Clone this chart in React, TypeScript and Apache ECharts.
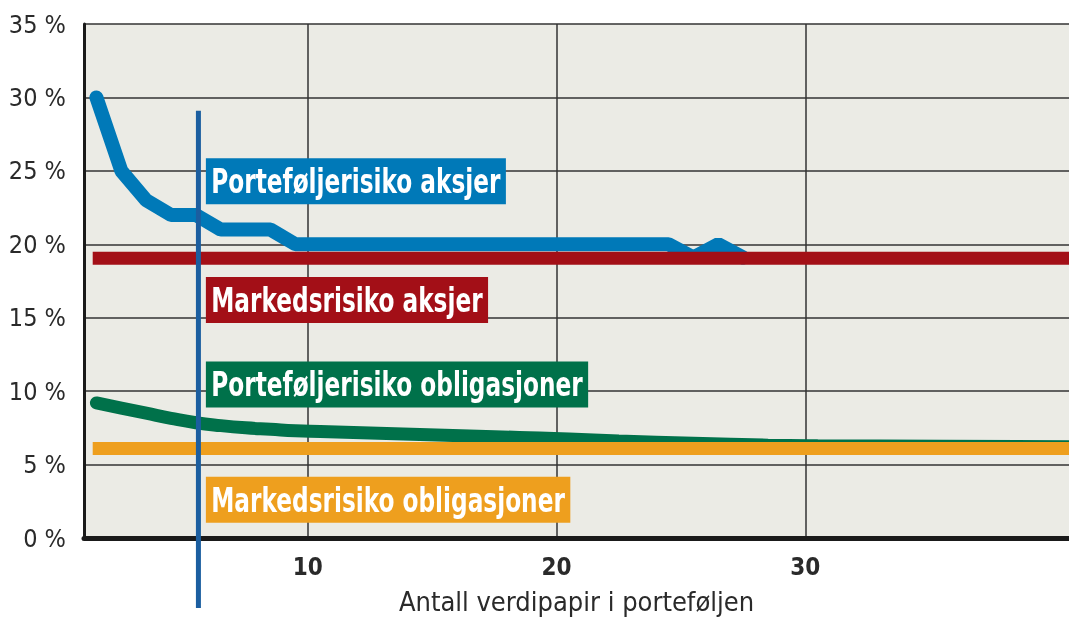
import React, { useEffect, useRef } from "react";
import * as echarts from "echarts";

const FONT = "'DejaVu Sans Condensed', 'Liberation Sans Narrow', sans-serif";

const yTicks = [0, 5, 10, 15, 20, 25, 30, 35];
const xTicks = [10, 20, 30];
const xMin = 1;
const xMax = 40.6;

const blueX = [1.5, 2.5, 3.5, 4.5, 5.5, 6.5, 8.5, 9.5, 24.5, 25.5, 26.5, 27.5];
const blueY = [30, 25, 23, 22, 22, 21, 21, 20, 20, 19.1, 20, 19.1];

const greenX = [1.5, 2.5, 3.5, 4.5, 5.5, 6.5, 7.5, 8.5, 9.5, 10.5, 12.5, 14.5, 16.5, 18.5, 20.5, 22.5, 25.5, 28.5, 30.5, 35.5, 40.6];
const greenY = [9.2, 8.85, 8.5, 8.15, 7.85, 7.65, 7.5, 7.4, 7.3, 7.25, 7.15, 7.05, 6.95, 6.85, 6.75, 6.6, 6.45, 6.32, 6.28, 6.25, 6.22];

const marketStocks = 19.05;
const marketBonds = 6.1;
const flatStart = 1.35;

const markerX = 5.6;
const markerTop = 29.1;

const labelX = 5.9;
const labelTexts = ["Porteføljerisiko aksjer", "Markedsrisiko aksjer", "Porteføljerisiko obligasjoner", "Markedsrisiko obligasjoner"];
const labelYs = [24.3, 16.2, 10.45, 2.6];
const labelColors = ["#0079B8", "#A30F17", "#00714A", "#EE9F1E"];

const xName = "Antall verdipapir i porteføljen";

export default function App() {
  const ref = useRef<HTMLDivElement>(null);
  useEffect(() => {
    if (!ref.current) return;
    const chart = echarts.init(ref.current, null, { renderer: "svg", width: 1069, height: 621 });
    const pair = (xs: number[], ys: number[]) => xs.map((x, i) => [x, ys[i]]);
    chart.setOption({
      animation: false,
      grid: {
        left: 84,
        top: 24,
        right: 0,
        bottom: 83,
        show: true,
        backgroundColor: "#EBEBE5",
        borderWidth: 0,
        containLabel: false,
      },
      xAxis: {
        type: "value",
        min: xMin,
        max: xMax,
        name: xName,
        nameLocation: "middle",
        nameGap: 50,
        nameTextStyle: { fontFamily: FONT, fontSize: 27, color: "#2a2a2a" },
        axisLine: { show: true, onZero: false, lineStyle: { color: "#1a1a1a", width: 5 } },
        axisTick: { show: false, customValues: xTicks },
        axisLabel: {
          customValues: xTicks,
          fontFamily: FONT,
          fontSize: 24,
          fontWeight: "bold",
          color: "#2a2a2a",
          margin: 17,
        },
        splitLine: { show: true, lineStyle: { color: "#333", width: 1.5 } },
      },
      yAxis: {
        type: "value",
        min: 0,
        max: 35,
        interval: 5,
        axisLine: { show: true, lineStyle: { color: "#1a1a1a", width: 3 } },
        axisTick: { show: false },
        axisLabel: {
          formatter: (v: number) => (yTicks.includes(v) ? `${v} %` : ""),
          fontFamily: FONT,
          fontSize: 25,
          color: "#2a2a2a",
          margin: 18,
        },
        splitLine: { show: true, lineStyle: { color: "#333", width: 1.5 } },
      },
      series: [
        {
          type: "line",
          data: pair(blueX, blueY),
          showSymbol: false,
          lineStyle: { color: "#0079B8", width: 14, cap: "round", join: "bevel" },
          z: 2,
        },
        {
          type: "line",
          data: pair(greenX, greenY),
          smooth: true,
          showSymbol: false,
          lineStyle: { color: "#00714A", width: 13, cap: "round" },
          z: 2,
        },
        {
          type: "line",
          data: [[flatStart, marketStocks], [xMax, marketStocks]],
          showSymbol: false,
          lineStyle: { color: "#A30F17", width: 13 },
          z: 3,
        },
        {
          type: "line",
          data: [[flatStart, marketBonds], [xMax, marketBonds]],
          showSymbol: false,
          lineStyle: { color: "#EE9F1E", width: 13 },
          z: 3,
        },
      ],
    });

    const px = (x: number, y: number) => chart.convertToPixel({ gridIndex: 0 }, [x, y]) as number[];
    const top = px(markerX, markerTop);
    const bottom = px(markerX, 0);
    const graphics: any[] = [
      {
        type: "line",
        z: 100,
        shape: { x1: top[0], y1: top[1], x2: bottom[0], y2: bottom[1] + 70 },
        style: { stroke: "#1B5EA0", lineWidth: 5 },
      },
    ];
    labelTexts.forEach((t, i) => {
      const p = px(labelX, labelYs[i]);
      graphics.push({
        type: "text",
        z: 101,
        x: p[0],
        y: p[1],
        scaleX: 0.76,
        style: {
          text: t,
          fill: "#fff",
          font: `bold 34px ${FONT}`,
          align: "left",
          verticalAlign: "middle",
          backgroundColor: labelColors[i],
          padding: [3, 7, 3, 7],
          lineHeight: 40,
        },
      });
    });
    chart.setOption({ graphic: graphics });

    return () => chart.dispose();
  }, []);
  return <div ref={ref} style={{ position: "fixed", left: 0, top: 0, width: 1069, height: 621 }} />;
}
